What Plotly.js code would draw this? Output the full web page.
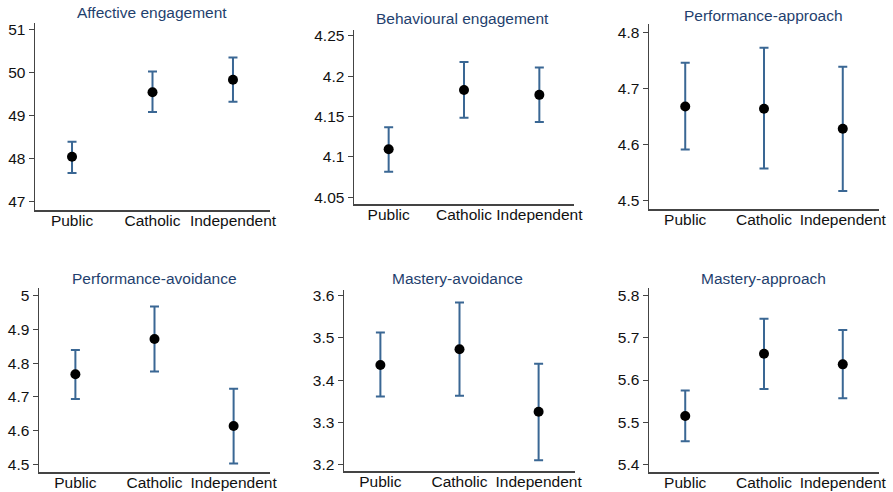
<!DOCTYPE html>
<html>
<head>
<meta charset="utf-8">
<script src="https://cdn.plot.ly/plotly-3.0.1.min.js"></script>
<style>html,body{margin:0;padding:0;background:#fff;}#chart{width:893px;height:492px;}</style>
</head>
<body>
<div id="chart"></div>
<script>
const categories = ["Public", "Catholic", "Independent"];
const panelTitles = ["Affective engagement", "Behavioural engagement", "Performance-approach",
                     "Performance-avoidance", "Mastery-avoidance", "Mastery-approach"];
const affectiveMean  = [48.05, 49.55, 49.84];
const affectiveUpper = [48.40, 50.03, 50.36];
const affectiveLower = [47.67, 49.09, 49.33];
const behaviouralMean  = [4.1095, 4.183, 4.177];
const behaviouralUpper = [4.1368, 4.2177, 4.211];
const behaviouralLower = [4.0818, 4.1487, 4.1433];
const perfApproachMean  = [4.668, 4.664, 4.628];
const perfApproachUpper = [4.746, 4.773, 4.739];
const perfApproachLower = [4.591, 4.557, 4.517];
const perfAvoidMean  = [4.767, 4.871, 4.614];
const perfAvoidUpper = [4.839, 4.967, 4.724];
const perfAvoidLower = [4.694, 4.775, 4.503];
const mastAvoidMean  = [3.436, 3.473, 3.325];
const mastAvoidUpper = [3.513, 3.584, 3.439];
const mastAvoidLower = [3.361, 3.363, 3.210];
const mastApproachMean  = [5.515, 5.662, 5.637];
const mastApproachUpper = [5.575, 5.745, 5.718];
const mastApproachLower = [5.455, 5.579, 5.557];
const yTicks = [
  [47, 48, 49, 50, 51],
  [4.05, 4.1, 4.15, 4.2, 4.25],
  [4.5, 4.6, 4.7, 4.8],
  [4.5, 4.6, 4.7, 4.8, 4.9, 5],
  [3.2, 3.3, 3.4, 3.5, 3.6],
  [5.4, 5.5, 5.6, 5.7, 5.8]
];

const series = [
  [affectiveMean, affectiveUpper, affectiveLower],
  [behaviouralMean, behaviouralUpper, behaviouralLower],
  [perfApproachMean, perfApproachUpper, perfApproachLower],
  [perfAvoidMean, perfAvoidUpper, perfAvoidLower],
  [mastAvoidMean, mastAvoidUpper, mastAvoidLower],
  [mastApproachMean, mastApproachUpper, mastApproachLower]
];

// layout geometry (pixels)
const W = 893, H = 492;
const boxes = [
  {x0: 35, x1: 270, yt: 23, yb: 210, yr: [46.81, 51.16], tx: 152, ty: 13},
  {x0: 354, x1: 574, yt: 30, yb: 204, yr: [4.0417, 4.2574], tx: 463, ty: 19},
  {x0: 649, x1: 879, yt: 24, yb: 209, yr: [4.4846, 4.8155], tx: 763, ty: 15},
  {x0: 39, x1: 270, yt: 288, yb: 472, yr: [4.478, 5.022], tx: 154, ty: 278},
  {x0: 344, x1: 575, yt: 290, yb: 471, yr: [3.1848, 3.6135], tx: 458, ty: 278},
  {x0: 649, x1: 879, yt: 288, yb: 472, yr: [5.3825, 5.8175], tx: 763, ty: 278}
];

const errColor = '#3a6794';
const data = [];
const layout = {
  width: W, height: H,
  margin: {l: 0, r: 0, t: 0, b: 0},
  paper_bgcolor: '#fff', plot_bgcolor: '#fff',
  showlegend: false,
  font: {family: 'Liberation Sans, Arial, sans-serif', size: 15, color: '#111'},
  annotations: []
};

series.forEach((s, i) => {
  const mean = s[0], up = s[1], lo = s[2];
  const n = i + 1;
  const xa = n === 1 ? 'x' : 'x' + n;
  const ya = n === 1 ? 'y' : 'y' + n;
  data.push({
    type: 'scatter', mode: 'markers',
    x: categories, y: mean,
    xaxis: xa, yaxis: ya,
    marker: {color: '#000', size: 10},
    error_y: {
      type: 'data', symmetric: false,
      array: mean.map((m, k) => up[k] - m),
      arrayminus: mean.map((m, k) => m - lo[k]),
      color: errColor, thickness: 2, width: 4.5
    },
    hoverinfo: 'skip'
  });
  const b = boxes[i];
  const xkey = n === 1 ? 'xaxis' : 'xaxis' + n;
  const ykey = n === 1 ? 'yaxis' : 'yaxis' + n;
  layout[xkey] = {
    domain: [b.x0 / W, b.x1 / W],
    anchor: ya,
    type: 'category',
    range: [-0.46, 2.46],
    showgrid: false, zeroline: false,
    showline: true, linecolor: '#444', linewidth: 1.5,
    ticks: '', ticklen: 0,
    ticklabelstandoff: -4,
    tickfont: {size: 15.5, color: '#111'},
    fixedrange: true
  };
  layout[ykey] = {
    domain: [1 - b.yb / H, 1 - b.yt / H],
    anchor: xa,
    range: b.yr,
    tickvals: yTicks[i],
    ticktext: yTicks[i].map(v => String(v)),
    showgrid: false, zeroline: false,
    showline: true, linecolor: '#444', linewidth: 1.5,
    ticks: 'outside', ticklen: 5, tickcolor: '#444', tickwidth: 1,
    tickfont: {size: 15.5, color: '#111'},
    fixedrange: true
  };
  layout.annotations.push({
    text: panelTitles[i],
    xref: 'paper', yref: 'paper',
    x: b.tx / W, y: 1 - b.ty / H,
    xanchor: 'center', yanchor: 'middle',
    showarrow: false,
    font: {size: 15.5, color: '#1f3f6e'}
  });
});

Plotly.newPlot('chart', data, layout, {displayModeBar: false, staticPlot: true});
</script>
</body>
</html>
